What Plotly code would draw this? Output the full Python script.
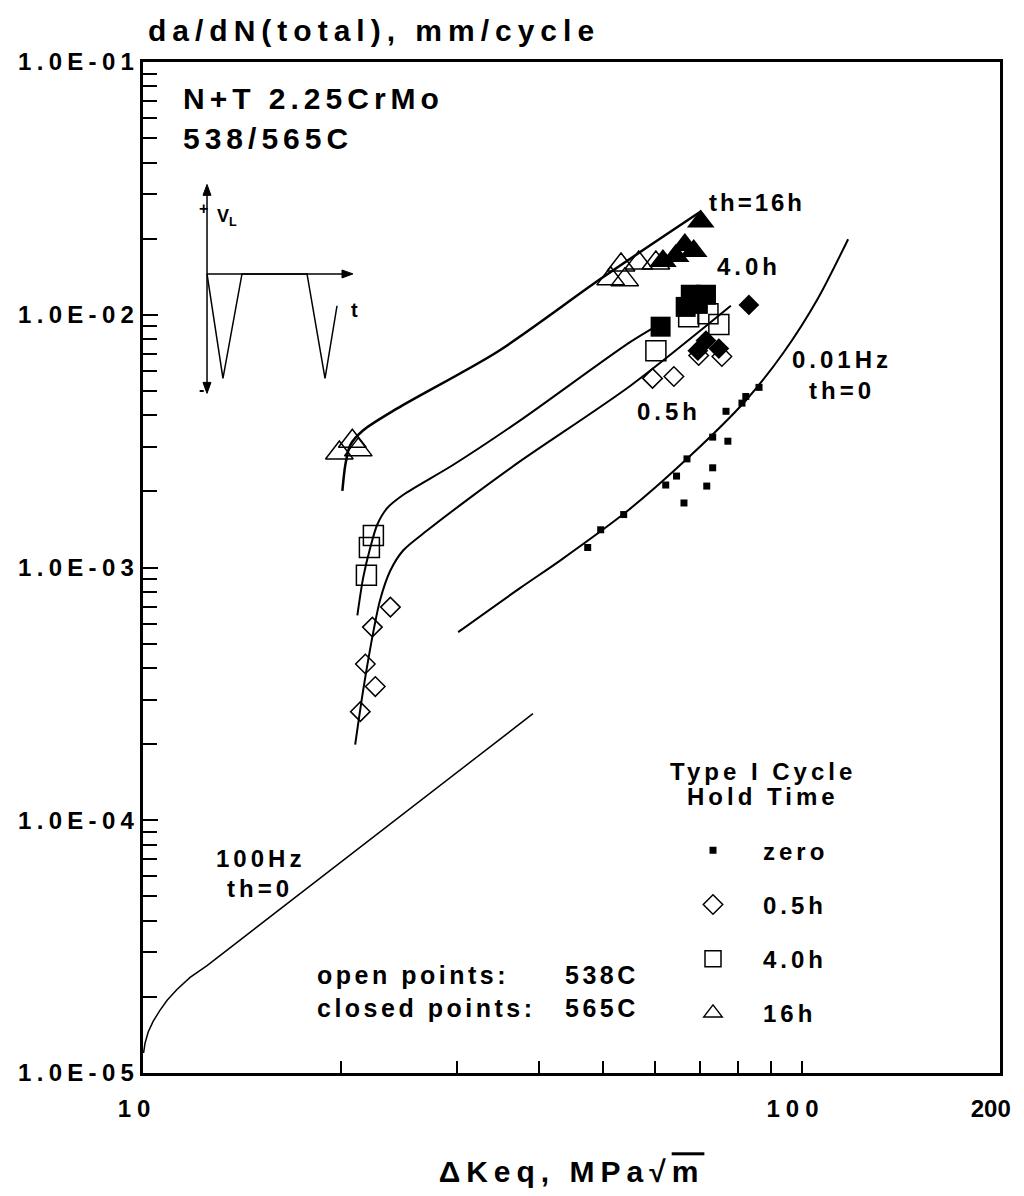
import plotly.graph_objects as go
import math

# ---------------- data (ΔKeq in MPa√m, da/dN in mm/cycle) ----------------
# fitted curves
k_100hz = [10.02, 10.07, 10.18, 10.36, 10.61, 10.88, 11.26, 11.79, 12.51, 39.1]
r_100hz = [1.20e-5, 1.31e-5, 1.45e-5, 1.60e-5, 1.77e-5, 1.94e-5, 2.14e-5, 2.39e-5, 2.66e-5, 2.64e-4]

k_001hz = [30.1, 37.5, 43.1, 54.5, 67.2, 82.3, 94.1, 105.9, 117.7]
r_001hz = [5.55e-4, 8.34e-4, 1.07e-3, 1.68e-3, 2.71e-3, 4.58e-3, 7.14e-3, 1.16e-2, 1.99e-2]

k_05h = [21.0, 21.6, 22.4, 22.9, 23.75, 24.85, 27.0, 31.4, 37.45, 55.05, 78.1]
r_05h = [1.99e-4, 3.28e-4, 5.65e-4, 7.41e-4, 9.73e-4, 1.17e-3, 1.40e-3, 1.89e-3, 2.64e-3, 5.25e-3, 1.085e-2]

k_4h = [21.16, 21.6, 22.14, 22.69, 23.5, 24.85, 29.6, 37.45, 55.05, 62.9]
r_4h = [6.47e-4, 9.14e-4, 1.2e-3, 1.48e-3, 1.72e-3, 1.94e-3, 2.55e-3, 3.83e-3, 7.83e-3, 9.64e-3]

k_16h = [20.08, 20.29, 20.64, 21.6, 24.33, 34.54, 49.55, 70.3]
r_16h = [2.01e-3, 2.55e-3, 3.05e-3, 3.49e-3, 4.26e-3, 7.14e-3, 1.387e-2, 2.56e-2]

# test points: zero hold time
k_zero = [47.35, 49.55, 53.7, 62.2, 64.6, 66.3, 67.0, 71.8, 73.3, 73.3, 77.3, 76.8, 81.2, 82.3, 86.2]
r_zero = [1.2e-3, 1.41e-3, 1.62e-3, 2.12e-3, 2.30e-3, 1.80e-3, 2.69e-3, 2.10e-3, 2.48e-3,
          3.28e-3, 3.16e-3, 4.15e-3, 4.47e-3, 4.75e-3, 5.16e-3]
# 0.5h hold: open (538C) / closed (565C)
k_05h_open = [21.38, 21.76, 22.30, 22.53, 23.75, 59.4, 64.0, 69.8, 75.7]
r_05h_open = [2.69e-4, 4.15e-4, 5.81e-4, 3.38e-4, 6.97e-4, 5.6e-3, 5.7e-3, 6.9e-3, 6.84e-3]
k_05h_closed = [69.6, 71.6, 74.9, 83.2]
r_05h_closed = [7.21e-3, 7.9e-3, 7.35e-3, 1.094e-2]
# 4.0h hold
k_4h_open = [22.38, 22.07, 21.84, 60.1, 67.4, 72.1, 74.9]
r_4h_open = [1.337e-3, 1.2e-3, 9.31e-4, 7.21e-3, 9.82e-3, 1.01e-2, 9.14e-3]
k_4h_closed = [61.1, 66.7, 67.9, 71.6, 69.6]
r_4h_closed = [8.97e-3, 1.074e-2, 1.2e-2, 1.2e-2, 1.104e-2]
# 16h hold
k_16h_open = [19.87, 20.79, 21.23, 51.3, 53.9, 53.2, 56.6, 60.1]
r_16h_open = [2.84e-3, 3.16e-3, 2.92e-3, 1.387e-2, 1.374e-2, 1.574e-2, 1.603e-2, 1.603e-2]
k_16h_closed = [61.6, 64.4, 66.5, 68.6, 70.3]
r_16h_closed = [1.633e-2, 1.708e-2, 1.888e-2, 1.787e-2, 2.34e-2]

# axis ticks
x_tickvals = [10, 100, 200]
x_ticktext = ["10", "100", "200"]
x_minor = [20, 30, 40, 50, 60, 70, 80, 90]
y_tickvals = [1e-5, 1e-4, 1e-3, 1e-2, 1e-1]
y_ticktext = ["1.0E-05", "1.0E-04", "1.0E-03", "1.0E-02", "1.0E-01"]
y_minor = [m * 10.0 ** e for e in range(-5, -1) for m in range(2, 10)]

# ---------------- styling helpers ----------------
FONT = "Liberation Sans, Arial, Helvetica, sans-serif"
BLACK = "black"
L, R, T, B = 143, 1000, 62, 1078


def sp(t, s):
    return f'<span style="letter-spacing:{s}px">{t}</span>'


def sp_inner(t, s):
    # letter-spacing between characters only (no trailing gap after the last one)
    return sp(t[:-1], s) + t[-1]


def fx(x):
    return (x - L) / (R - L)


def fy(y):
    return (B - y) / (B - T)


def font(size):
    return dict(family=FONT, size=size, color=BLACK, weight="bold")


fig = go.Figure()

# curves
curves = [(k_100hz, r_100hz, 1.5, "linear"), (k_001hz, r_001hz, 2.0, "spline"),
          (k_05h, r_05h, 2.0, "spline"), (k_4h, r_4h, 2.0, "spline"), (k_16h, r_16h, 2.5, "spline")]
for k, r, w, shp in curves:
    fig.add_trace(go.Scatter(x=k, y=r, mode="lines", showlegend=False, hoverinfo="skip",
                             line=dict(color=BLACK, width=w, shape=shp, smoothing=0.8)))

# points
fig.add_trace(go.Scatter(x=k_zero, y=r_zero, mode="markers", name=sp("zero", 4), legendgroup="zero",
                         marker=dict(symbol="square", size=7, color=BLACK)))
fig.add_trace(go.Scatter(x=k_05h_open, y=r_05h_open, mode="markers", name=sp("0.5h", 4), legendgroup="g05",
                         marker=dict(symbol="diamond-open", size=15, color=BLACK, line=dict(width=1.5))))
fig.add_trace(go.Scatter(x=k_05h_closed, y=r_05h_closed, mode="markers", showlegend=False, legendgroup="g05",
                         marker=dict(symbol="diamond", size=16, color=BLACK)))
fig.add_trace(go.Scatter(x=k_4h_open, y=r_4h_open, mode="markers", name=sp("4.0h", 4), legendgroup="g4",
                         marker=dict(symbol="square-open", size=20, color=BLACK, line=dict(width=1.5))))
fig.add_trace(go.Scatter(x=k_4h_closed, y=r_4h_closed, mode="markers", showlegend=False, legendgroup="g4",
                         marker=dict(symbol="square", size=20, color=BLACK)))
fig.add_trace(go.Scatter(x=k_16h_open, y=r_16h_open, mode="markers", name=sp("16h", 4), legendgroup="g16",
                         marker=dict(symbol="triangle-up-open", size=24, color=BLACK, line=dict(width=1.5))))
fig.add_trace(go.Scatter(x=k_16h_closed, y=r_16h_closed, mode="markers", showlegend=False, legendgroup="g16",
                         marker=dict(symbol="triangle-up", size=24, color=BLACK)))

# ---------------- annotations ----------------
ann = []


def text(t, x, y, size=24, spacing=4, anchor="left"):
    ann.append(dict(text=sp(t, spacing), x=fx(x), y=fy(y), xref="paper", yref="paper",
                    xanchor=anchor, yanchor="middle", showarrow=False, font=font(size)))


text("N+T 2.25CrMo", 181, 99, 30, 5)
text("538/565C", 181, 139, 30, 5)
text("th=16h", 707, 203, 24, 3)
text("4.0h", 715, 268, 24, 4)
text("0.5h", 635, 413, 24, 4)
text("0.01Hz", 842, 361, 24, 4, "center")
text("th=0", 842, 392, 24, 4, "center")
text("100Hz", 260, 862, 24, 4, "center")
text("th=0", 260, 893, 24, 4, "center")
text("open points:", 315, 980, 25, 3.5)
text("538C", 563, 980, 25, 3.5)
text("closed points:", 315, 1013, 25, 3.5)
text("565C", 563, 1013, 25, 3.5)
text("Type I Cycle", 763, 775, 24, 4, "center")
text("Hold Time", 763, 800, 24, 4, "center")

# loading-waveform schematic (inset)
def pth(pts, close=False):
    s = "M " + " L ".join(f"{fx(a):.4f},{fy(b):.4f}" for a, b in pts)
    return s + (" Z" if close else "")


wave = [(207, 275), (223, 380), (242, 275), (307, 275), (325, 380), (337, 307)]
shapes = [
    dict(type="path", path=pth(wave), xref="paper", yref="paper", line=dict(color=BLACK, width=1.5)),
    dict(type="path", path=pth([(207, 275), (345, 275)]), xref="paper", yref="paper",
         line=dict(color=BLACK, width=1.5)),
    dict(type="path", path=pth([(207, 192), (207, 388)]), xref="paper", yref="paper",
         line=dict(color=BLACK, width=1.5)),
]
for tri in [[(353, 275), (342, 271), (342, 279)],
            [(207, 185), (203, 196), (211, 196)],
            [(207, 395), (203, 384), (211, 384)]]:
    shapes.append(dict(type="path", path=pth(tri, True), xref="paper", yref="paper",
                       line=dict(color=BLACK, width=1), fillcolor=BLACK))
ann.append(dict(text="+", x=fx(197), y=fy(199), xref="paper", yref="paper", showarrow=False, font=font(16)))
ann.append(dict(text="-", x=fx(197), y=fy(381), xref="paper", yref="paper", showarrow=False, font=font(16)))
ann.append(dict(text="V<sub>L</sub>", x=fx(215), y=fy(205), xref="paper", yref="paper", xanchor="left",
                showarrow=False, font=dict(family=FONT, size=18, color=BLACK)))
ann.append(dict(text="t", x=fx(349), y=fy(298), xref="paper", yref="paper", showarrow=False,
                font=dict(family=FONT, size=20, color=BLACK)))

fig.update_layout(
    width=1024, height=1196,
    margin=dict(l=L, r=1024 - R, t=T, b=1196 - B),
    paper_bgcolor="white", plot_bgcolor="white",
    font=font(24),
    title=dict(text=sp("da/dN(total), mm/cycle", 6), x=148 / 1024, xanchor="left",
               y=1 - 30 / 1196, yanchor="middle", font=font(30)),
    annotations=ann, shapes=shapes,
    legend=dict(x=fx(663), y=fy(832), xanchor="left", yanchor="top", bgcolor="rgba(0,0,0,0)",
                font=font(24), traceorder="grouped", tracegroupgap=20, itemwidth=90),
)

# the right-hand label sits at the plot edge: keep it compact
x_ticklabels = [sp_inner(t, 6) for t in x_ticktext[:-1]] + [x_ticktext[-1]]

fig.update_xaxes(
    type="log", range=[1, math.log10(200) + 0.0004], showgrid=False, zeroline=False,
    showline=True, linewidth=3, linecolor=BLACK, mirror=True,
    ticks="inside", ticklen=12, tickwidth=2, tickcolor=BLACK,
    tickmode="array", tickvals=x_tickvals, ticktext=x_ticklabels,
    tickfont=font(24), ticklabelstandoff=12, ticklabelshift=-9, ticklabeloverflow="allow",
    minor=dict(tickmode="array", tickvals=x_minor, ticks="inside", ticklen=12, tickwidth=2,
               tickcolor=BLACK, showgrid=False),
    title=dict(text=sp("ΔKeq, MPa√", 6) + '<span style="letter-spacing:6px;text-decoration:overline">m</span>',
               font=font(30), standoff=41),
)
fig.update_yaxes(
    type="log", range=[-5, -1], showgrid=False, zeroline=False,
    showline=True, linewidth=3, linecolor=BLACK, mirror=True,
    ticks="inside", ticklen=15, tickwidth=2, tickcolor=BLACK,
    tickmode="array", tickvals=y_tickvals, ticktext=[sp(t, 5.3) for t in y_ticktext],
    tickfont=font(24), ticklabelstandoff=-4,
    minor=dict(tickmode="array", tickvals=y_minor, ticks="inside", ticklen=14, tickwidth=2,
               tickcolor=BLACK, showgrid=False),
)

fig.write_html(
    "out.html", config={"displayModeBar": False},
    post_script=(
        "document.documentElement.style.overflow='hidden';"
        "document.body.style.margin='0px';document.body.style.overflow='hidden';"
        "document.querySelectorAll('.plotly-graph-div, .plot-container, .svg-container, svg.main-svg')"
        ".forEach(function(s){s.style.overflow='hidden';});"))
